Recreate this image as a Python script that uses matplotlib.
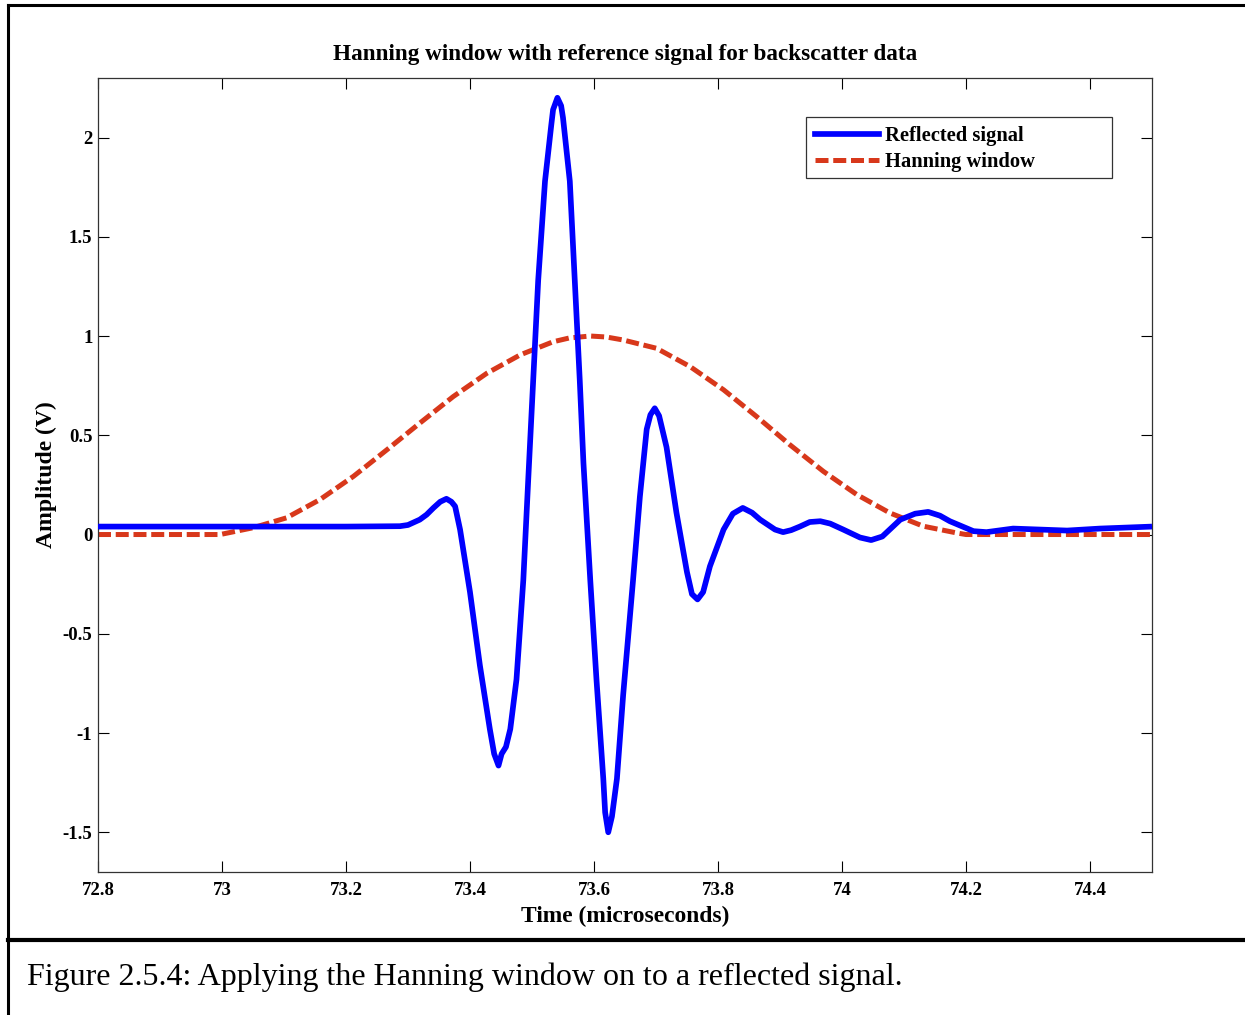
import matplotlib
matplotlib.use("Agg")
import matplotlib.pyplot as plt
from matplotlib.lines import Line2D
from matplotlib.patches import Rectangle

plt.rcParams['font.family'] = ['Liberation Serif', 'DejaVu Serif']

# reflected signal (time in microseconds, amplitude in V)
sig_t = [72.80, 73.00, 73.20, 73.287, 73.30, 73.319, 73.33, 73.341, 73.352,
         73.362, 73.370, 73.376, 73.384, 73.400, 73.416, 73.432, 73.439, 73.446,
         73.451, 73.458, 73.465, 73.475, 73.486, 73.494, 73.502, 73.510, 73.521,
         73.531, 73.534, 73.541, 73.547, 73.550, 73.561, 73.569, 73.577, 73.583,
         73.594, 73.604, 73.615, 73.618, 73.623, 73.629, 73.637, 73.647, 73.663,
         73.674, 73.685, 73.691, 73.698, 73.705, 73.717, 73.733, 73.750, 73.758,
         73.767, 73.776, 73.787, 73.809, 73.824, 73.840, 73.855, 73.868, 73.892,
         73.905, 73.918, 73.932, 73.948, 73.965, 73.981, 74.002, 74.029, 74.047,
         74.065, 74.094, 74.118, 74.139, 74.158, 74.174, 74.212, 74.233, 74.276,
         74.363, 74.416, 74.50]
sig_v = [0.04, 0.04, 0.04, 0.042, 0.048, 0.075, 0.10, 0.134, 0.165,
         0.18, 0.165, 0.142, 0.025, -0.29, -0.66, -0.98, -1.105, -1.164,
         -1.105, -1.07, -0.98, -0.73, -0.23, 0.28, 0.78, 1.28, 1.78,
         2.06, 2.14, 2.2, 2.16, 2.10, 1.78, 1.28, 0.78, 0.36,
         -0.23, -0.73, -1.23, -1.40, -1.5, -1.42, -1.23, -0.81, -0.23,
         0.19, 0.53, 0.603, 0.636, 0.598, 0.44, 0.11, -0.19, -0.30,
         -0.327, -0.29, -0.16, 0.025, 0.105, 0.134, 0.11, 0.075, 0.025,
         0.012, 0.022, 0.04, 0.063, 0.067, 0.055, 0.025, -0.015, -0.028,
         -0.01, 0.075, 0.105, 0.114, 0.095, 0.067, 0.017, 0.012, 0.03,
         0.02, 0.03, 0.04]

# hanning window
win_t = [72.80, 72.997, 73.05, 73.104, 73.158, 73.212, 73.266, 73.319, 73.373,
         73.427, 73.481, 73.534, 73.56, 73.594, 73.62, 73.647, 73.701, 73.755,
         73.809, 73.862, 73.916, 73.970, 74.024, 74.077, 74.131, 74.185, 74.20, 74.50]
win_v = [0.0, 0.0, 0.034, 0.084, 0.176, 0.293, 0.427, 0.561, 0.695,
         0.812, 0.905, 0.971, 0.99, 1.0, 0.995, 0.98, 0.938, 0.846,
         0.729, 0.595, 0.452, 0.318, 0.201, 0.109, 0.042, 0.008, 0.0, 0.0]

xticks = [72.8, 73, 73.2, 73.4, 73.6, 73.8, 74, 74.2, 74.4]
xtick_labels = ['72.8', '73', '73.2', '73.4', '73.6', '73.8', '74', '74.2', '74.4']
yticks = [-1.5, -1, -0.5, 0, 0.5, 1, 1.5, 2]
ytick_labels = ['-1.5', '-1', '-0.5', '0', '0.5', '1', '1.5', '2']

BLUE = '#0000ff'
RED = '#d8381b'

fig = plt.figure(figsize=(12.45, 10.15), dpi=100)
ax = fig.add_axes([0.0787, 0.1409, 0.8466, 0.7823])

ax.plot(sig_t, sig_v, color=BLUE, lw=4.1, solid_joinstyle='round',
        solid_capstyle='butt', zorder=3)
ax.plot(win_t, win_v, color=RED, lw=3.6, dashes=(2.6, 0.95), zorder=2)

ax.set_xlim(72.8, 74.5)
ax.set_ylim(-1.7, 2.3)
ax.set_xticks(xticks)
ax.set_xticklabels(xtick_labels)
ax.set_yticks(yticks)
ax.set_yticklabels(ytick_labels)
ax.tick_params(direction='in', length=8, width=0.8, top=True, right=True,
               labelsize=13.5)
ax.tick_params(axis='x', pad=7)
ax.tick_params(axis='y', pad=4)
for lab in ax.get_xticklabels() + ax.get_yticklabels():
    lab.set_fontweight('bold')
for s in ax.spines.values():
    s.set_linewidth(0.9)
    s.set_color('#333333')

ax.set_title('Hanning window with reference signal for backscatter data',
             fontsize=16.7, fontweight='bold', pad=13)
ax.set_xlabel('Time (microseconds)', fontsize=16.9, fontweight='bold', labelpad=5)
ax.set_ylabel('Amplitude (V)', fontsize=17, fontweight='bold', labelpad=4)

# legend, with a matlab-like wide box drawn separately
handles = [Line2D([], [], color=BLUE, lw=4.1),
           Line2D([], [], color=RED, lw=3.6, dashes=(2.6, 0.95))]
ax.legend(handles, ['Reflected signal', 'Hanning window'],
          loc='upper left', bbox_to_anchor=(0.6717, 0.9509),
          prop={'weight': 'bold', 'size': 14.8}, frameon=False,
          handlelength=3.1, handletextpad=0.3, borderpad=0.45,
          labelspacing=0.3, borderaxespad=0)
ax.add_patch(Rectangle((0.6717, 0.8741), 0.9621 - 0.6717, 0.9509 - 0.8741,
                       transform=ax.transAxes, fill=True, facecolor='white',
                       edgecolor='#333333', lw=0.9, zorder=4))
ax.get_legend().set_zorder(5)

# page frame and caption
fig.add_artist(Line2D([8 / 1245, 8 / 1245], [0, 1 - 5 / 1015], color='black',
                      lw=2.2, transform=fig.transFigure))
fig.add_artist(Line2D([8 / 1245, 1], [1 - 5 / 1015, 1 - 5 / 1015], color='black',
                      lw=2.2, transform=fig.transFigure))
fig.add_artist(Line2D([8 / 1245, 1], [1 - 940 / 1015, 1 - 940 / 1015],
                      color='black', lw=3, transform=fig.transFigure))
fig.text(27 / 1245, 1 - 977 / 1015,
         'Figure 2.5.4: Applying the Hanning window on to a reflected signal.',
         fontsize=23, va='center', ha='left')

fig.savefig('out.png', dpi=100)
